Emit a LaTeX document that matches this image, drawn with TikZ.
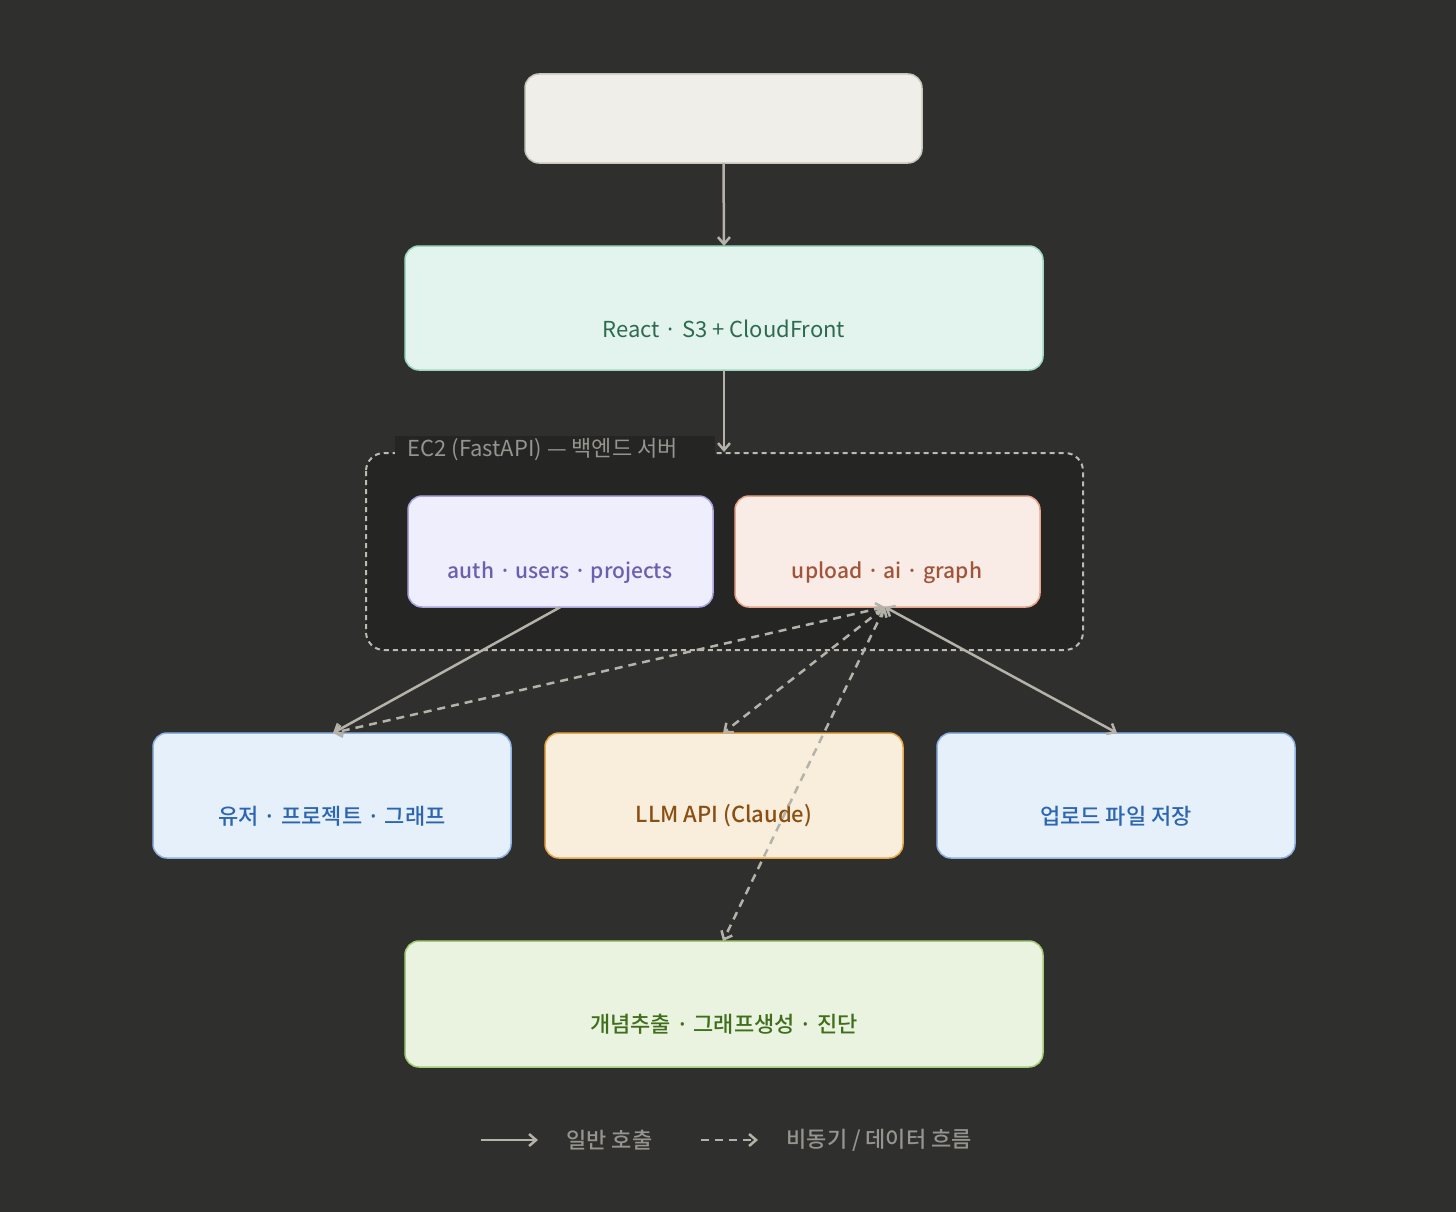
\documentclass[tikz,border=0pt]{standalone}
\usepackage{fontspec}
\setmainfont{Noto Sans CJK KR}
\newfontfamily\med{Noto Sans CJK KR Medium}
\usetikzlibrary{arrows.meta}
\definecolor{bg}{HTML}{2F2F2D}
\definecolor{ln}{HTML}{B5B2AA}
\definecolor{inner}{HTML}{252523}
\tikzset{
 box/.style={draw, line width=1.5pt, rounded corners=14pt, anchor=north west},
 ttl/.style={font=\fontsize{27}{30}\selectfont\med},
 sub/.style={font=\fontsize{22}{26}\selectfont},
 arr/.style={draw=ln, line width=2.5pt, -{Straight Barb[length=7pt,width=12pt]}},
 darr/.style={arr, dash pattern=on 8pt off 6pt, {Straight Barb[length=7pt,width=12pt]}-{Straight Barb[length=7pt,width=12pt]}},
}
\newcommand{\bx}[8]{% name, x1,y1,x2,y2, fill, draw
 \path[box, fill=#6, draw=#7] (#2,#3) rectangle (#4,#5);
 \coordinate (#1) at ({(#2+#4)/2},{(#3+#5)/2});
 \coordinate (#1-n) at ({(#2+#4)/2},#3);
 \coordinate (#1-s) at ({(#2+#4)/2},#5);
}
\begin{document}
\begin{tikzpicture}[x=1pt,y=-1pt]
\fill[bg] (0,0) rectangle (1456,1212);
\useasboundingbox (0,0) rectangle (1456,1212);
% EC2 container
\draw[draw=ln!90, fill=inner, line width=2pt, dash pattern=on 5pt off 4pt, rounded corners=18pt] (366,453) rectangle (1083,650);
\fill[fill=inner] (395,436) rectangle (715,466);
\node[anchor=west, text={rgb,255:red,150;green,148;blue,142}, font=\fontsize{22}{26}\selectfont] (ec2l) at (404,450) {EC2 (FastAPI) — 백엔드 서버};
% boxes
\bx{usr}{525}{74}{922}{163}{{rgb,255:red,240;green,238;blue,232}}{{rgb,255:red,200;green,198;blue,190}}
\node[ttl, text={rgb,255:red,51;green,51;blue,51}] (usrt) at (usr) {사용자 (브라우저)};
\bx{fe}{405}{246}{1043}{370}{{rgb,255:red,227;green,244;blue,238}}{{rgb,255:red,158;green,216;blue,192}}
\node[ttl, text={rgb,255:red,31;green,74;blue,56}] (fet) at (724,291) {Frontend};
\node[sub, text={rgb,255:red,45;green,106;blue,79}] (fes) at (724,329) {React · S3 + CloudFront};
\bx{au}{408}{496}{713}{607}{{rgb,255:red,239;green,238;blue,252}}{{rgb,255:red,169;green,163;blue,224}}
\node[ttl, font=\fontsize{25}{28}\selectfont\med, text={rgb,255:red,59;green,52;blue,132}] (aut) at (560,533) {인증 / 사용자 / 프로젝트};
\node[sub, font=\fontsize{21}{24}\selectfont, text={rgb,255:red,106;green,96;blue,176}] (aus) at (560,573) {auth · users · projects};
\bx{up}{735}{496}{1040}{607}{{rgb,255:red,249;green,236;blue,230}}{{rgb,255:red,232;green,165;blue,140}}
\node[ttl, font=\fontsize{25}{28}\selectfont\med, text={rgb,255:red,107;green,42;blue,24}] (upt) at (887,533) {업로드 / AI연동 / 그래프};
\node[sub, font=\fontsize{21}{24}\selectfont, text={rgb,255:red,160;green,85;blue,58}] (ups) at (887,573) {upload · ai · graph};
\bx{rds}{153}{733}{511}{858}{{rgb,255:red,230;green,240;blue,251}}{{rgb,255:red,143;green,180;blue,228}}
\node[ttl, text={rgb,255:red,30;green,66;blue,114}] (rdst) at (332,778) {RDS (PostgreSQL)};
\node[sub, text={rgb,255:red,45;green,102;blue,176}] (rdss) at (332,816) {유저 · 프로젝트 · 그래프};
\bx{bed}{545}{733}{903}{858}{{rgb,255:red,248;green,238;blue,219}}{{rgb,255:red,232;green,168;blue,74}}
\node[ttl, text={rgb,255:red,107;green,59;blue,14}] (bedt) at (724,778) {Amazon Bedrock};
\node[sub, text={rgb,255:red,138;green,79;blue,20}] (beds) at (724,816) {LLM API (Claude)};
\bx{s3}{937}{733}{1295}{858}{{rgb,255:red,230;green,240;blue,251}}{{rgb,255:red,143;green,180;blue,228}}
\node[ttl, text={rgb,255:red,30;green,66;blue,114}] (s3t) at (1116,778) {S3};
\node[sub, text={rgb,255:red,45;green,102;blue,176}] (s3s) at (1116,816) {업로드 파일 저장};
\bx{ai}{405}{941}{1043}{1067}{{rgb,255:red,234;green,243;blue,223}}{{rgb,255:red,166;green,204;blue,120}}
\node[ttl, text={rgb,255:red,47;green,80;blue,21}] (ait) at (724,986) {AI 모듈 (Python)};
\node[sub, text={rgb,255:red,63;green,110;blue,28}] (ais) at (724,1024) {개념추출 · 그래프생성 · 진단};
% connectors
\coordinate (ec2top) at (724,452);
\coordinate (rdsn) at (333,733);
\coordinate (bedn) at (723,733);
\coordinate (s3n) at (1117,733);
\coordinate (ain) at (723,941);
\coordinate (upb) at (885,607);
\draw[arr] (usr-s) -- (fe-n);
\draw[arr] (fe-s) -- (ec2top);
\draw[arr] (au-s) -- (rdsn);
\draw[arr, {Straight Barb[length=7pt,width=12pt]}-{Straight Barb[length=7pt,width=12pt]}] (upb) -- (s3n);
\draw[darr] (upb) -- (rdsn);
\draw[darr] (upb) -- (bedn);
\draw[darr] (upb) -- (ain);
% legend
\coordinate (l1a) at (481,1140); \coordinate (l1b) at (538,1140);
\coordinate (l2a) at (701,1140); \coordinate (l2b) at (758,1140);
\draw[arr] (l1a) -- (l1b);
\draw[arr, dash pattern=on 8pt off 6pt] (l2a) -- (l2b);
\node[anchor=west, text={rgb,255:red,150;green,148;blue,142}, font=\fontsize{22}{26}\selectfont] (lg1) at (558,1140) {일반 호출};
\node[anchor=west, text={rgb,255:red,150;green,148;blue,142}, font=\fontsize{22}{26}\selectfont] (lg2) at (778,1140) {비동기 / 데이터 흐름};
\end{tikzpicture}
\end{document}
